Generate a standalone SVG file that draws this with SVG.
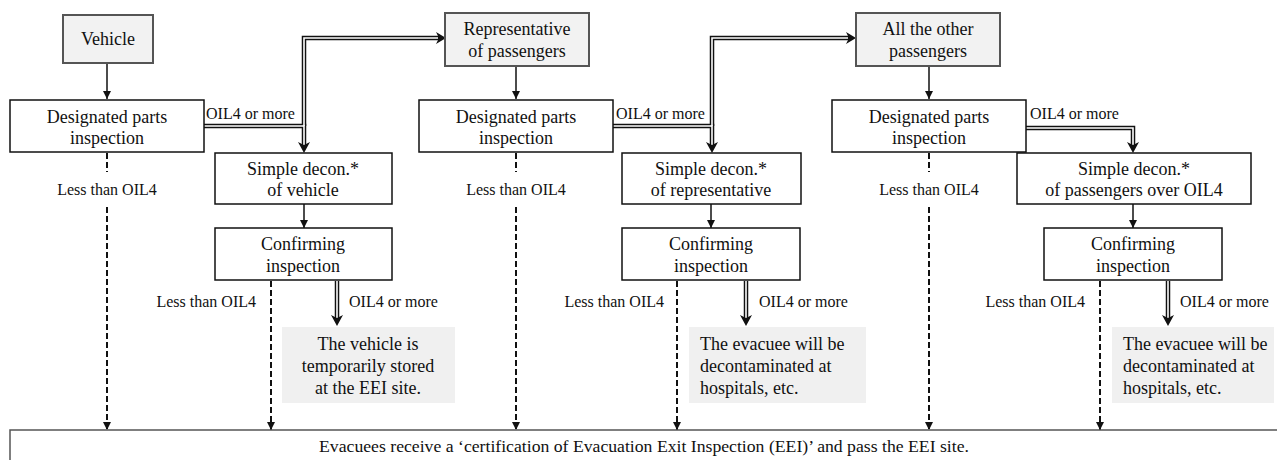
<svg xmlns="http://www.w3.org/2000/svg" width="1277" height="460" viewBox="0 0 1277 460" font-family="'Liberation Serif', serif">
<defs>
<style>
text{font-family:"Liberation Serif",serif;fill:#111}
.t{font-size:18px;text-anchor:middle}
.tl{font-size:18px;text-anchor:start}
.lab{font-size:16px}
.box{fill:#fff;stroke:#111;stroke-width:1.5}
.src{fill:#f2f2f2;stroke:#555;stroke-width:2}
.res{fill:#f0f0f0;stroke:none}
.arr{fill:none;stroke:#111;stroke-width:1.5}
.dash{fill:none;stroke:#111;stroke-width:2;stroke-dasharray:6 3}
.dblo{fill:none;stroke:#111;stroke-width:4.5}
.dbli{fill:none;stroke:#fff;stroke-width:1.6}
.head{fill:#111}
</style>
<marker id="ahs" viewBox="0 0 10 10" refX="10" refY="5" markerWidth="8" markerHeight="8" markerUnits="userSpaceOnUse" orient="auto"><path d="M0,0 L10,5 L0,10 z" fill="#111"/></marker>
</defs>

<g id="connectors">
<!-- single arrows -->
<line class="arr" x1="107" y1="63" x2="107" y2="99" marker-end="url(#ahs)"/>
<line class="arr" x1="516" y1="66" x2="516" y2="99" marker-end="url(#ahs)"/>
<line class="arr" x1="929" y1="66" x2="929" y2="99" marker-end="url(#ahs)"/>
<line class="arr" x1="304" y1="204" x2="304" y2="228" marker-end="url(#ahs)"/>
<line class="arr" x1="711" y1="204" x2="711" y2="228" marker-end="url(#ahs)"/>
<line class="arr" x1="1133" y1="204" x2="1133" y2="228" marker-end="url(#ahs)"/>

<!-- dashed "less than" arrows -->
<line class="dash" x1="107" y1="153" x2="107" y2="172"/>
<line class="dash" x1="107" y1="207" x2="107" y2="430" marker-end="url(#ahs)"/>
<line class="dash" x1="516" y1="153" x2="516" y2="172"/>
<line class="dash" x1="516" y1="207" x2="516" y2="430" marker-end="url(#ahs)"/>
<line class="dash" x1="929" y1="153" x2="929" y2="172"/>
<line class="dash" x1="929" y1="207" x2="929" y2="430" marker-end="url(#ahs)"/>
<line class="dash" x1="271" y1="281" x2="271" y2="430" marker-end="url(#ahs)"/>
<line class="dash" x1="677" y1="281" x2="677" y2="430" marker-end="url(#ahs)"/>
<line class="dash" x1="1100" y1="281" x2="1100" y2="430" marker-end="url(#ahs)"/>

<!-- double-line arrows: outer -->
<path class="dblo" d="M204,126 H304 V146"/>
<path class="dblo" d="M304,126 V38 H439"/>
<path class="dblo" d="M613,126 H712 V146"/>
<path class="dblo" d="M712,126 V38 H849"/>
<path class="dblo" d="M1026,128 H1133 V146"/>
<path class="dblo" d="M337,281 V319"/>
<path class="dblo" d="M746,281 V319"/>
<path class="dblo" d="M1168,281 V319"/>
<!-- double-line arrows: inner -->
<path class="dbli" d="M204,126 H304 V145"/>
<path class="dbli" d="M304,126 V38 H438"/>
<path class="dbli" d="M613,126 H712 V145"/>
<path class="dbli" d="M712,126 V38 H848"/>
<path class="dbli" d="M1026,128 H1133 V145"/>
<path class="dbli" d="M337,280 V318"/>
<path class="dbli" d="M746,280 V318"/>
<path class="dbli" d="M1168,280 V318"/>
<!-- double-line arrowheads -->
<path class="head" d="M298,142 L304,145 L310,142 L304,153 z"/>
<path class="head" d="M706,142 L712,145 L718,142 L712,153 z"/>
<path class="head" d="M1127,142 L1133,145 L1139,142 L1133,153 z"/>
<path class="head" d="M331,315 L337,318 L343,315 L337,326 z"/>
<path class="head" d="M740,315 L746,318 L752,315 L746,326 z"/>
<path class="head" d="M1162,315 L1168,318 L1174,315 L1168,326 z"/>
<path class="head" d="M436,32 L439,38 L436,44 L446,38 z"/>
<path class="head" d="M846,32 L849,38 L846,44 L856,38 z"/>

<!-- connector labels -->
<text class="lab" x="206" y="119">OIL4 or more</text>
<text class="lab" x="616" y="119">OIL4 or more</text>
<text class="lab" x="1030" y="119">OIL4 or more</text>
<text class="lab" x="107" y="195" text-anchor="middle">Less than OIL4</text>
<text class="lab" x="516" y="195" text-anchor="middle">Less than OIL4</text>
<text class="lab" x="929" y="195" text-anchor="middle">Less than OIL4</text>
<text class="lab" x="256" y="307" text-anchor="end">Less than OIL4</text>
<text class="lab" x="664" y="307" text-anchor="end">Less than OIL4</text>
<text class="lab" x="1085" y="307" text-anchor="end">Less than OIL4</text>
<text class="lab" x="349" y="307">OIL4 or more</text>
<text class="lab" x="759" y="307">OIL4 or more</text>
<text class="lab" x="1180" y="307">OIL4 or more</text>
</g>

<!-- column 1 -->
<g id="vehicle">
<rect class="src" x="63" y="15" width="90" height="48"/>
<text class="t" x="108" y="45">Vehicle</text>
</g>
<g id="dpi1">
<rect class="box" x="10" y="100" width="194" height="52"/>
<text class="t" x="107" y="123">Designated parts</text>
<text class="t" x="107" y="144">inspection</text>
</g>
<g id="decon1">
<rect class="box" x="215" y="153" width="177" height="51"/>
<text class="t" x="303" y="175">Simple decon.*</text>
<text class="t" x="303" y="196">of vehicle</text>
</g>
<g id="confirm1">
<rect class="box" x="215" y="228" width="177" height="52"/>
<text class="t" x="303" y="250">Confirming</text>
<text class="t" x="303" y="272">inspection</text>
</g>
<g id="result1">
<rect class="res" x="282" y="327" width="173" height="76"/>
<text class="t" x="368" y="350">The vehicle is</text>
<text class="t" x="368" y="372">temporarily stored</text>
<text class="t" x="368" y="394">at the EEI site.</text>
</g>

<!-- column 2 -->
<g id="representative">
<rect class="src" x="445" y="13" width="144" height="53"/>
<text class="t" x="517" y="35">Representative</text>
<text class="t" x="517" y="57">of passengers</text>
</g>
<g id="dpi2">
<rect class="box" x="419" y="100" width="194" height="52"/>
<text class="t" x="516" y="123">Designated parts</text>
<text class="t" x="516" y="144">inspection</text>
</g>
<g id="decon2">
<rect class="box" x="622" y="153" width="179" height="51"/>
<text class="t" x="711" y="175">Simple decon.*</text>
<text class="t" x="711" y="196">of representative</text>
</g>
<g id="confirm2">
<rect class="box" x="622" y="228" width="178" height="52"/>
<text class="t" x="711" y="250">Confirming</text>
<text class="t" x="711" y="272">inspection</text>
</g>
<g id="result2">
<rect class="res" x="689" y="327" width="177" height="76"/>
<text class="tl" x="700" y="350">The evacuee will be</text>
<text class="tl" x="700" y="372">decontaminated at</text>
<text class="tl" x="700" y="394">hospitals, etc.</text>
</g>

<!-- column 3 -->
<g id="others">
<rect class="src" x="856" y="13" width="144" height="53"/>
<text class="t" x="928" y="35">All the other</text>
<text class="t" x="928" y="57">passengers</text>
</g>
<g id="dpi3">
<rect class="box" x="832" y="100" width="194" height="52"/>
<text class="t" x="929" y="123">Designated parts</text>
<text class="t" x="929" y="144">inspection</text>
</g>
<g id="decon3">
<rect class="box" x="1017" y="153" width="234" height="51"/>
<text class="t" x="1134" y="175">Simple decon.*</text>
<text class="t" x="1134" y="196">of passengers over OIL4</text>
</g>
<g id="confirm3">
<rect class="box" x="1044" y="228" width="178" height="52"/>
<text class="t" x="1133" y="250">Confirming</text>
<text class="t" x="1133" y="272">inspection</text>
</g>
<g id="result3">
<rect class="res" x="1112" y="327" width="162" height="76"/>
<text class="tl" x="1123" y="350">The evacuee will be</text>
<text class="tl" x="1123" y="372">decontaminated at</text>
<text class="tl" x="1123" y="394">hospitals, etc.</text>
</g>

<!-- bottom -->
<g id="exit">
<rect x="10" y="430" width="1290" height="50" fill="#fff" stroke="#555" stroke-width="1.5"/>
<text x="644" y="452" text-anchor="middle" font-size="17.7">Evacuees receive a ‘certification of Evacuation Exit Inspection (EEI)’ and pass the EEI site.</text>
</g>
</svg>
